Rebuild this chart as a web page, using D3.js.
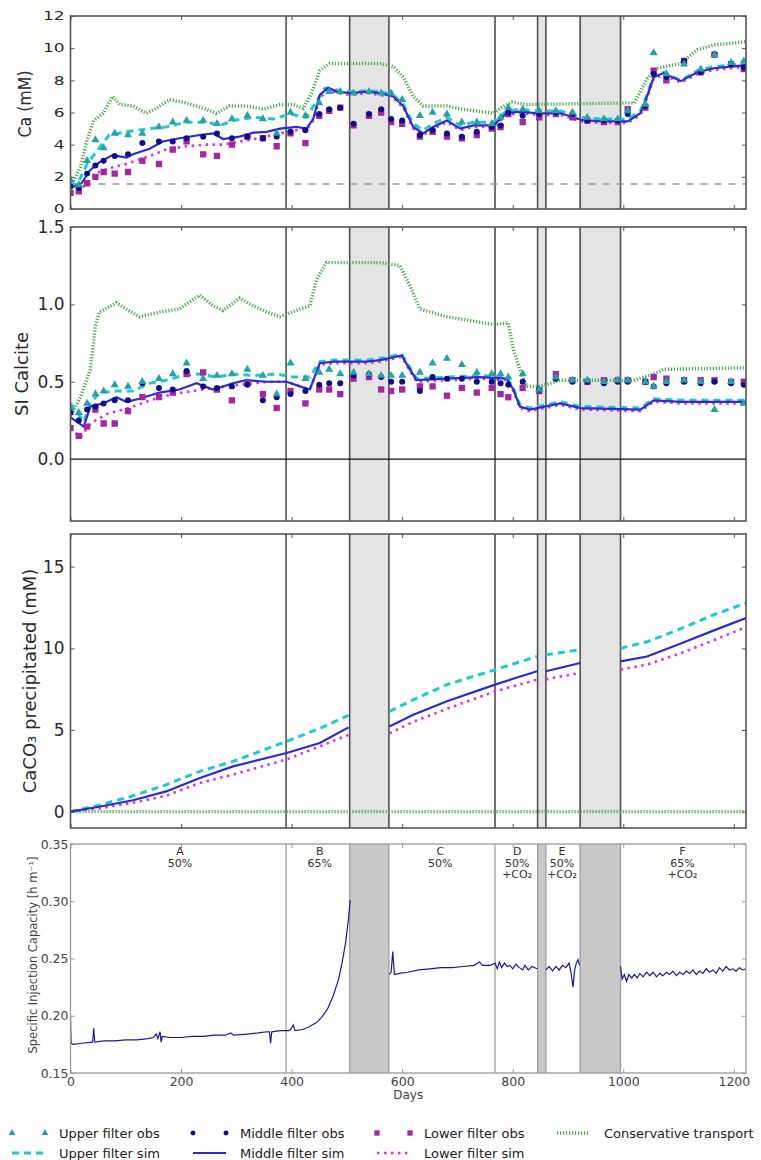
<!DOCTYPE html>
<html>
<head>
<meta charset="utf-8">
<script src="https://cdn.jsdelivr.net/npm/d3@7"></script>
<style>
  body { margin: 0; background: #fff; }
  svg { display: block; font-family: "DejaVu Sans", sans-serif; }
</style>
</head>
<body>
<svg id="chart" width="761" height="1160"></svg>
<script>
// ---- data (days since start) ----
const dayMax = 1222;
const phaseBounds = [390, 505, 576, 768, 845, 860, 922, 995];
const pauses = [[505, 576], [845, 860], [922, 995]];
const phaseLabels = [
  {day: 198, lines: ['A', '50%']},
  {day: 451, lines: ['B', '65%']},
  {day: 669, lines: ['C', '50%']},
  {day: 808, lines: ['D', '50%', '+CO₂']},
  {day: 889, lines: ['E', '50%', '+CO₂']},
  {day: 1107, lines: ['F', '65%', '+CO₂']}
];

const obsDays = [0, 15, 30, 45, 60, 80, 104, 130, 160, 185, 210, 240, 265, 292, 320, 348, 373, 398, 425, 450,
  468, 488, 512, 540, 562, 580, 600, 632, 655, 681, 708, 735, 762, 778, 792, 818, 848, 878, 908, 935,
  965, 990, 1008, 1040, 1055, 1078, 1110, 1140, 1165, 1195, 1218];

// Ca (mM)
const caUpperObs = [1.8, 1.5, 3.0, 4.3, 3.8, 4.7, 4.6, 4.7, 5.1, 5.4, 5.5, 5.5, 5.3, 5.6, 5.8, 5.6, 4.7, 6.0, 5.8, 6.6,
  7.3, 7.3, 7.2, 7.3, 7.2, 7.2, 6.8, 5.8, 6.0, 5.9, 5.4, 5.4, 5.3, 5.7, 6.3, 6.2, 6.1, 6.1, 6.0, 5.7,
  5.6, 5.6, 6.1, 6.5, 9.7, 8.4, 9.0, 8.7, 9.6, 9.1, 9.2];
const caMiddleObs = [1.4, 1.3, 2.2, 2.7, 3.0, 3.3, 3.4, 4.1, 4.2, 4.2, 4.4, 4.5, 4.7, 4.4, 4.5, 4.4, 4.5, 4.8, 4.9, 5.9,
  6.2, 6.3, 5.3, 5.9, 6.2, 5.6, 5.5, 4.6, 4.9, 4.7, 4.5, 4.8, 5.1, 5.2, 6.0, 5.8, 5.9, 6.0, 5.9, 5.5,
  5.5, 5.5, 5.9, 6.4, 8.4, 8.2, 9.2, 8.5, 9.6, 9.0, 8.8];
const caLowerObs = [1.0, 1.1, 1.6, 2.0, 2.3, 2.2, 2.3, 3.0, 2.8, 3.7, 4.2, 3.4, 3.3, 4.0, 4.5, 4.4, 3.9, 4.7, 4.1, 5.8,
  6.1, 6.3, 5.2, 5.8, 6.0, 5.4, 5.3, 4.5, 4.8, 4.5, 4.4, 4.6, 5.0, 5.1, 5.9, 5.4, 5.7, 5.9, 5.7, 5.5,
  5.4, 5.4, 6.2, 6.3, 8.6, 8.0, 9.2, 8.5, 9.6, 9.0, 8.7];
const caUpperSim = [[0,1.6],[12,1.5],[30,2.8],[52,3.8],[70,4.6],[101,4.8],[143,5.0],[173,5.1],[209,5.4],[246,5.4],
  [270,5.2],[294,5.5],[331,5.7],[367,5.6],[397,5.9],[427,5.7],[445,6.7],[460,7.5],[481,7.4],[506,7.3],[536,7.35],
  [560,7.3],[584,7.1],[602,6.5],[620,5.3],[638,4.9],[656,5.3],[681,5.7],[705,5.2],[729,5.4],[765,5.4],[789,6.1],
  [813,6.2],[845,6.1],[887,6.1],[923,5.7],[959,5.6],[1008,5.6],[1031,6.1],[1043,7.1],[1055,8.3],[1073,8.5],
  [1104,8.0],[1134,8.6],[1164,8.85],[1194,8.95],[1222,9.05]];
const caMiddleSim = [[0,1.4],[8,1.4],[20,1.6],[35,2.4],[52,2.9],[76,3.35],[101,3.2],[113,3.4],[143,3.75],[167,4.2],
  [197,4.4],[234,4.6],[258,4.7],[276,4.35],[306,4.5],[331,4.75],[355,4.8],[379,5.0],[409,5.1],[427,5.0],[439,5.6],
  [451,7.1],[466,7.55],[481,7.3],[506,7.2],[536,7.3],[560,7.2],[584,7.0],[602,6.4],[620,5.1],[638,4.7],[656,5.1],
  [681,5.5],[705,5.0],[729,5.2],[765,5.2],[789,5.95],[813,6.05],[845,5.95],[887,5.95],[923,5.55],[959,5.45],
  [1008,5.45],[1031,5.95],[1043,7.0],[1055,8.2],[1073,8.45],[1104,7.95],[1134,8.5],[1164,8.75],[1194,8.85],[1222,8.95]];
const caLowerSim = [[0,1.0],[15,1.1],[35,1.8],[52,2.3],[76,2.6],[101,2.8],[143,3.3],[173,3.7],[209,3.9],[246,4.0],
  [276,4.0],[306,4.2],[340,4.4],[379,4.7],[409,4.9],[427,4.9],[439,5.5],[451,6.9],[466,7.4],[481,7.2],[506,7.1],
  [536,7.2],[560,7.1],[584,6.9],[602,6.3],[620,5.0],[638,4.6],[656,5.0],[681,5.4],[705,4.9],[729,5.1],[765,5.1],
  [789,5.85],[813,5.95],[845,5.85],[887,5.85],[923,5.45],[959,5.35],[1008,5.35],[1031,5.85],[1043,6.9],[1055,8.1],
  [1073,8.35],[1104,7.85],[1134,8.4],[1164,8.65],[1194,8.75],[1222,8.85]];
const caConservative = [[0,1.4],[18,2.6],[30,4.3],[42,5.5],[59,5.95],[76,7.0],[89,6.5],[113,6.4],[137,5.95],[155,6.25],
  [179,6.8],[209,6.6],[246,6.2],[264,5.95],[288,6.4],[318,6.4],[348,6.2],[379,6.5],[403,6.5],[421,6.25],[436,7.2],
  [451,8.6],[469,9.05],[560,9.05],[584,8.85],[602,8.2],[620,7.0],[638,6.4],[681,6.4],[711,6.2],[765,5.95],[777,6.25],
  [798,6.65],[825,6.5],[923,6.55],[1020,6.6],[1043,8.1],[1061,8.75],[1104,9.05],[1134,9.9],[1164,10.2],[1222,10.4]];
const caBackground = 1.55;

// SI calcite
const siUpperObs = [0.33, 0.30, 0.36, 0.42, 0.44, 0.48, 0.47, 0.50, 0.52, 0.55, 0.62, 0.52, 0.54, 0.55, 0.58, 0.54, 0.42, 0.62, 0.52, 0.56,
  0.58, 0.55, 0.56, 0.55, 0.54, 0.54, 0.54, 0.56, 0.62, 0.65, 0.61, 0.56, 0.55, 0.55, 0.53, 0.55, 0.45, 0.53, 0.51, 0.51,
  0.50, 0.51, 0.51, 0.50, 0.47, 0.50, 0.51, 0.50, 0.32, 0.50, 0.36];
const siMiddleObs = [0.30, 0.25, 0.32, 0.34, 0.36, 0.38, 0.38, 0.49, 0.46, 0.45, 0.57, 0.47, 0.46, 0.47, 0.48, 0.38, 0.40, 0.42, 0.44, 0.48,
  0.49, 0.49, 0.54, 0.55, 0.53, 0.50, 0.50, 0.44, 0.53, 0.52, 0.52, 0.50, 0.50, 0.49, 0.48, 0.50, 0.45, 0.52, 0.50, 0.50,
  0.49, 0.50, 0.50, 0.50, 0.47, 0.49, 0.50, 0.49, 0.50, 0.49, 0.48];
const siLowerObs = [0.20, 0.15, 0.21, 0.32, 0.23, 0.23, 0.31, 0.40, 0.40, 0.43, 0.55, 0.56, 0.45, 0.38, 0.49, 0.42, 0.33, 0.44, 0.36, 0.45,
  0.45, 0.42, 0.52, 0.53, 0.45, 0.44, 0.45, 0.47, 0.47, 0.41, 0.46, 0.43, 0.46, 0.42, 0.40, 0.46, 0.44, 0.55, 0.51, 0.50,
  0.51, 0.51, 0.51, 0.50, 0.53, 0.52, 0.51, 0.51, 0.51, 0.50, 0.50];
const siUpperSim = [[0,0.36],[24,0.24],[36,0.36],[52,0.43],[83,0.44],[113,0.44],[143,0.49],[173,0.51],[203,0.54],[234,0.55],
  [264,0.53],[294,0.55],[331,0.54],[373,0.55],[403,0.53],[433,0.53],[451,0.63],[476,0.64],[536,0.64],[560,0.65],[599,0.68],
  [614,0.59],[626,0.52],[681,0.53],[741,0.54],[789,0.53],[801,0.46],[813,0.35],[831,0.33],[886,0.37],[923,0.34],
  [1031,0.33],[1055,0.39],[1104,0.38],[1222,0.38]];
const siMiddleSim = [[0,0.27],[24,0.21],[36,0.34],[59,0.36],[83,0.40],[101,0.37],[125,0.39],[161,0.43],[197,0.45],[228,0.49],
  [258,0.45],[294,0.49],[318,0.51],[355,0.50],[391,0.50],[415,0.47],[433,0.45],[451,0.62],[476,0.63],[536,0.63],[560,0.64],
  [599,0.67],[614,0.58],[626,0.51],[681,0.52],[741,0.53],[789,0.52],[801,0.45],[813,0.34],[831,0.32],[886,0.36],[923,0.33],
  [1031,0.32],[1055,0.38],[1104,0.37],[1222,0.37]];
const siLowerSim = [[0,0.20],[18,0.14],[36,0.23],[65,0.29],[113,0.34],[161,0.40],[203,0.43],[258,0.46],[306,0.48],[355,0.50],
  [391,0.50],[415,0.47],[433,0.45],[451,0.61],[476,0.62],[536,0.62],[560,0.63],[599,0.66],[614,0.57],[626,0.50],[681,0.51],
  [741,0.52],[789,0.51],[801,0.44],[813,0.33],[831,0.31],[886,0.35],[923,0.32],[1031,0.31],[1055,0.37],[1104,0.36],[1222,0.36]];
const siConservative = [[0,0.27],[18,0.40],[36,0.58],[45,0.86],[52,0.95],[83,1.01],[101,0.97],[125,0.92],[161,0.95],[197,0.97],
  [234,1.06],[258,0.99],[276,0.96],[306,1.04],[331,0.99],[355,0.95],[379,0.92],[415,0.97],[433,0.99],[445,1.16],[463,1.27],
  [560,1.27],[596,1.25],[614,1.12],[632,0.97],[681,0.92],[765,0.87],[792,0.88],[801,0.71],[813,0.58],[825,0.47],[850,0.47],
  [886,0.51],[1019,0.51],[1055,0.55],[1073,0.58],[1222,0.59]];

// CaCO3 precipitated (mM); null = no injection
const precUpperSim = [[0,0],[52,0.4],[113,0.97],[173,1.65],[234,2.47],[294,3.08],[391,4.3],[451,5.1],[503,5.9],[540,null],
  [577,6.14],[620,6.85],[681,7.78],[768,8.69],[844,9.5],[852,null],[860,9.6],[922,9.92],[958,null],[995,10.0],[1043,10.4],
  [1104,11.2],[1164,12.06],[1222,12.77]];
const precMiddleSim = [[0,0],[52,0.3],[113,0.7],[173,1.24],[234,2.06],[294,2.77],[391,3.59],[451,4.2],[503,5.16],[540,null],
  [577,5.22],[620,5.94],[681,6.76],[768,7.78],[844,8.6],[852,null],[860,8.6],[922,9.1],[958,null],[995,9.2],[1043,9.5],
  [1104,10.3],[1164,11.1],[1222,11.86]];
const precLowerSim = [[0,0],[52,0.2],[113,0.55],[173,0.97],[234,1.76],[294,2.27],[391,3.2],[451,4.0],[503,4.7],[540,null],
  [577,4.8],[620,5.5],[681,6.3],[768,7.37],[844,8.08],[852,null],[860,8.1],[922,8.5],[958,null],[995,8.7],[1043,9.0],
  [1104,9.7],[1164,10.5],[1222,11.3]];
const precConservative = [[0,0],[1222,0]];

// specific injection capacity (h m-1)
const injCapacity = [[0,0.200],[1,0.176],[5,0.175],[20,0.176],[40,0.177],[42,0.189],[44,0.177],[60,0.178],[80,0.178],
  [100,0.179],[120,0.179],[140,0.180],[150,0.181],[155,0.184],[158,0.180],[162,0.186],[164,0.177],[166,0.182],[180,0.181],
  [200,0.181],[220,0.182],[240,0.182],[260,0.183],[280,0.183],[290,0.185],[295,0.183],[320,0.184],[340,0.185],[355,0.186],
  [360,0.186],[362,0.176],[364,0.186],[380,0.187],[395,0.187],[398,0.188],[403,0.192],[406,0.187],[420,0.188],[430,0.190],
  [445,0.194],[455,0.199],[465,0.206],[475,0.217],[485,0.232],[492,0.248],[498,0.265],[503,0.285],[506,0.301],[530,null],
  [577,0.236],[580,0.238],[583,0.256],[586,0.236],[595,0.237],[610,0.238],[630,0.240],[650,0.241],[670,0.242],[690,0.242],
  [710,0.243],[730,0.244],[740,0.247],[745,0.244],[760,0.244],[768,0.246],[772,0.241],[776,0.247],[780,0.242],[785,0.246],
  [790,0.243],[795,0.244],[800,0.241],[806,0.245],[812,0.242],[818,0.240],[822,0.244],[828,0.240],[835,0.243],[844,0.241],
  [852,null],[860,0.240],[866,0.243],[872,0.239],[878,0.243],[884,0.240],[890,0.244],[896,0.242],[902,0.246],[906,0.236],
  [909,0.225],[912,0.240],[915,0.246],[918,0.249],[921,0.244],[958,null],[995,0.243],[998,0.232],[1002,0.236],[1006,0.230],
  [1010,0.236],[1015,0.233],[1020,0.236],[1025,0.233],[1030,0.237],[1036,0.234],[1042,0.238],[1048,0.235],[1054,0.238],
  [1060,0.234],[1066,0.237],[1072,0.235],[1078,0.238],[1084,0.236],[1090,0.239],[1096,0.235],[1102,0.238],[1108,0.236],
  [1114,0.239],[1120,0.237],[1126,0.240],[1132,0.236],[1138,0.239],[1144,0.237],[1150,0.241],[1156,0.238],[1162,0.240],
  [1168,0.237],[1174,0.242],[1180,0.239],[1186,0.243],[1192,0.240],[1198,0.241],[1204,0.239],[1210,0.242],[1216,0.240],
  [1222,0.241]];

const dayTicks = [0, 200, 400, 600, 800, 1000, 1200];

// ---- styles ----
const st = {
  upObs:  {shape: d3.symbolTriangle, size: 28, fill: '#23a3a3'},
  midObs: {shape: d3.symbolCircle, size: 28, fill: '#0e0e8c'},
  lowObs: {shape: d3.symbolSquare, size: 40, fill: '#a4279f'},
  upSim:  {stroke: '#1ccccc', width: 3, dash: '7,5'},
  midSim: {stroke: '#2b2bd6', width: 2.2, dash: null},
  lowSim: {stroke: '#dd33dd', width: 2.6, dash: '2.5,4.5'},
  cons:   {stroke: '#4ba84b', width: 3.4, dash: '1.2,1.8'}
};

const svg = d3.select('#chart');
const x = d3.scaleLinear().domain([0, dayMax]).range([70.5, 746]);
const line = y => d3.line().defined(d => d[1] !== null).x(d => x(d[0])).y(d => y(d[1]));

function drawSim (g, y, data, s) {
  g.append('path')
    .attr('d', line(y)(data))
    .attr('fill', 'none')
    .attr('stroke', s.stroke)
    .attr('stroke-width', s.width)
    .attr('stroke-dasharray', s.dash);
}

function drawObs (g, y, values, s) {
  g.append('g').selectAll('path')
    .data(obsDays.map((d, i) => [d, values[i]])).enter()
    .append('path')
    .attr('transform', d => `translate(${x(d[0])},${y(d[1])})`)
    .attr('d', d3.symbol(s.shape, s.size))
    .attr('fill', s.fill);
}

function drawPhases (g, y, dark) {
  const [y0, y1] = y.range();
  g.selectAll('.pause')
    .data(pauses).enter()
    .append('rect')
    .attr('x', d => x(d[0])).attr('y', y1)
    .attr('width', d => x(d[1]) - x(d[0])).attr('height', y0 - y1)
    .attr('fill', dark ? '#c9c9c9' : '#e4e4e4');
  g.selectAll('.bound')
    .data(phaseBounds).enter()
    .append('line')
    .attr('x1', d => x(d)).attr('x2', d => x(d))
    .attr('y1', y1).attr('y2', y0)
    .attr('stroke', dark ? '#9a9a9a' : '#505050')
    .attr('stroke-width', dark ? 1.2 : 1.6);
}

function frameAndAxes (g, y, opt) {
  const [y0, y1] = y.range();
  const col = opt.frame;
  g.append('rect')
    .attr('x', x.range()[0]).attr('y', y1)
    .attr('width', x.range()[1] - x.range()[0]).attr('height', y0 - y1)
    .attr('fill', 'none').attr('stroke', col).attr('stroke-width', opt.frameWidth);

  const left = g.append('g').attr('transform', `translate(${x.range()[0]},0)`)
    .call(d3.axisLeft(y).tickValues(opt.ticks).tickFormat(opt.fmt).tickSize(-4).tickPadding(opt.pad));
  const rightAx = g.append('g').attr('transform', `translate(${x.range()[1]},0)`)
    .call(d3.axisRight(y).tickValues(opt.ticks).tickFormat('').tickSize(-4));
  const topAx = g.append('g').attr('transform', `translate(0,${y1})`)
    .call(d3.axisTop(x).tickValues(dayTicks).tickFormat('').tickSize(-4));
  const bottomAx = g.append('g').attr('transform', `translate(0,${y0})`)
    .call(d3.axisBottom(x).tickValues(dayTicks).tickFormat(opt.xLabels ? d3.format('d') : '').tickSize(-4).tickPadding(4));

  [left, rightAx, topAx, bottomAx].forEach(a => {
    a.select('.domain').remove();
    a.selectAll('line').attr('stroke', col);
    a.selectAll('text')
      .attr('fill', opt.textColor)
      .attr('font-size', opt.fontSize)
      .attr('font-family', '"DejaVu Sans", sans-serif');
  });
  if (opt.squash)
    left.selectAll('text').attr('transform', `scale(1,${opt.squash})`);
  return bottomAx;
}

function yLabel (text, cx, cy, size, squash, color) {
  svg.append('text')
    .attr('transform', `translate(${cx},${cy}) rotate(-90) scale(${squash},1)`)
    .attr('text-anchor', 'middle')
    .attr('dominant-baseline', 'central')
    .attr('font-size', size)
    .attr('fill', color)
    .text(text);
}

// ---- top three panels ----
const panels = [
  {top: 16, bottom: 209, domain: [0, 12], ticks: [0, 2, 4, 6, 8, 10, 12], fmt: d3.format('d'),
   label: 'Ca (mM)', labelPos: [25, 104], squash: 0.7, labelSquash: 0.88,
   up: caUpperSim, mid: caMiddleSim, low: caLowerSim, cons: caConservative,
   obs: [caUpperObs, caMiddleObs, caLowerObs]},
  {top: 227, bottom: 521, domain: [-0.4, 1.5], ticks: [0, 0.5, 1, 1.5], fmt: d3.format('.1f'),
   label: 'SI Calcite', labelPos: [21, 374], squash: 1, labelSquash: 1,
   up: siUpperSim, mid: siMiddleSim, low: siLowerSim, cons: siConservative,
   obs: [siUpperObs, siMiddleObs, siLowerObs]},
  {top: 534, bottom: 828, domain: [-1, 17], ticks: [0, 5, 10, 15], fmt: d3.format('d'),
   label: 'CaCO₃ precipitated (mM)', labelPos: [29, 681], squash: 1, labelSquash: 1,
   up: precUpperSim, mid: precMiddleSim, low: precLowerSim, cons: precConservative,
   obs: null}
];

panels.forEach((p, i) => {
  const y = d3.scaleLinear().domain(p.domain).range([p.bottom, p.top]);
  const g = svg.append('g');
  g.append('clipPath').attr('id', `clip${i}`)
    .append('rect').attr('x', x.range()[0]).attr('y', p.top)
    .attr('width', x.range()[1] - x.range()[0]).attr('height', p.bottom - p.top);
  const plot = g.append('g').attr('clip-path', `url(#clip${i})`);

  drawPhases(plot, y, false);

  if (i === 0) {
    plot.append('line')
      .attr('x1', x(0)).attr('x2', x(dayMax))
      .attr('y1', y(caBackground)).attr('y2', y(caBackground))
      .attr('stroke', '#999').attr('stroke-width', 1.6).attr('stroke-dasharray', '7,7');
  }
  if (i === 1) {
    plot.append('line')
      .attr('x1', x(0)).attr('x2', x(dayMax))
      .attr('y1', y(0)).attr('y2', y(0))
      .attr('stroke', '#111').attr('stroke-width', 1.3);
  }

  drawSim(plot, y, p.cons, st.cons);
  drawSim(plot, y, p.low, st.lowSim);
  drawSim(plot, y, p.up, st.upSim);
  drawSim(plot, y, p.mid, st.midSim);

  if (p.obs) {
    drawObs(plot, y, p.obs[2], st.lowObs);
    drawObs(plot, y, p.obs[1], st.midObs);
    drawObs(plot, y, p.obs[0], st.upObs);
  }

  frameAndAxes(g, y, {ticks: p.ticks, fmt: p.fmt, frame: '#555', frameWidth: 1.6, pad: 6,
    textColor: '#2a2a2a', fontSize: 17, squash: p.squash < 1 ? p.squash : null, xLabels: false});

  yLabel(p.label, p.labelPos[0], p.labelPos[1], 18, p.labelSquash, '#2a2a2a');
});

// ---- injection capacity panel ----
const yInj = d3.scaleLinear().domain([0.15, 0.35]).range([1073, 844]);
const gInj = svg.append('g');
drawPhases(gInj, yInj, true);
gInj.append('path')
  .attr('d', line(yInj)(injCapacity))
  .attr('fill', 'none')
  .attr('stroke', '#1b1b8f')
  .attr('stroke-width', 1.2);

const phaseText = gInj.selectAll('.phase')
  .data(phaseLabels).enter()
  .append('text')
  .attr('text-anchor', 'middle')
  .attr('font-size', 11)
  .attr('fill', '#333');
phaseText.selectAll('tspan')
  .data(d => d.lines.map(t => ({t, day: d.day}))).enter()
  .append('tspan')
  .attr('x', d => x(d.day))
  .attr('y', (d, i) => 855 + i * 11.5)
  .text(d => d.t);

frameAndAxes(gInj, yInj, {ticks: [0.15, 0.2, 0.25, 0.3, 0.35], fmt: d3.format('.2f'), frame: '#9a9a9a',
  frameWidth: 1.3, pad: 2, textColor: '#444', fontSize: 12.5, squash: null, xLabels: true});

svg.append('text')
  .attr('x', (x.range()[0] + x.range()[1]) / 2).attr('y', 1099)
  .attr('text-anchor', 'middle')
  .attr('font-size', 12)
  .attr('fill', '#444')
  .text('Days');

yLabel('Specific Injection Capacity [h m⁻¹]', 33, 955, 11.5, 1, '#444');

// ---- legend ----
const legend = svg.append('g').attr('font-size', 13).attr('fill', '#222');
const legendItems = [
  {col: 0, row: 0, text: 'Upper filter obs', obs: st.upObs},
  {col: 0, row: 1, text: 'Upper filter sim', sim: st.upSim},
  {col: 1, row: 0, text: 'Middle filter obs', obs: st.midObs},
  {col: 1, row: 1, text: 'Middle filter sim', sim: st.midSim},
  {col: 2, row: 0, text: 'Lower filter obs', obs: st.lowObs},
  {col: 2, row: 1, text: 'Lower filter sim', sim: st.lowSim},
  {col: 3, row: 0, text: 'Conservative transport', sim: st.cons}
];
const colX = [12, 193, 377, 557];
legendItems.forEach(it => {
  const x0 = colX[it.col];
  const yy = 1133 + it.row * 20;
  if (it.obs) {
    [x0, x0 + 33].forEach(px => legend.append('path')
      .attr('transform', `translate(${px},${yy})`)
      .attr('d', d3.symbol(it.obs.shape, it.obs.size * 0.7))
      .attr('fill', it.obs.fill));
  } else {
    legend.append('line')
      .attr('x1', x0).attr('x2', x0 + 33).attr('y1', yy).attr('y2', yy)
      .attr('stroke', it.sim.stroke).attr('stroke-width', it.sim.width)
      .attr('stroke-dasharray', it.sim.dash);
  }
  legend.append('text')
    .attr('x', x0 + 47).attr('y', yy)
    .attr('dominant-baseline', 'central')
    .text(it.text);
});
</script>
</body>
</html>
